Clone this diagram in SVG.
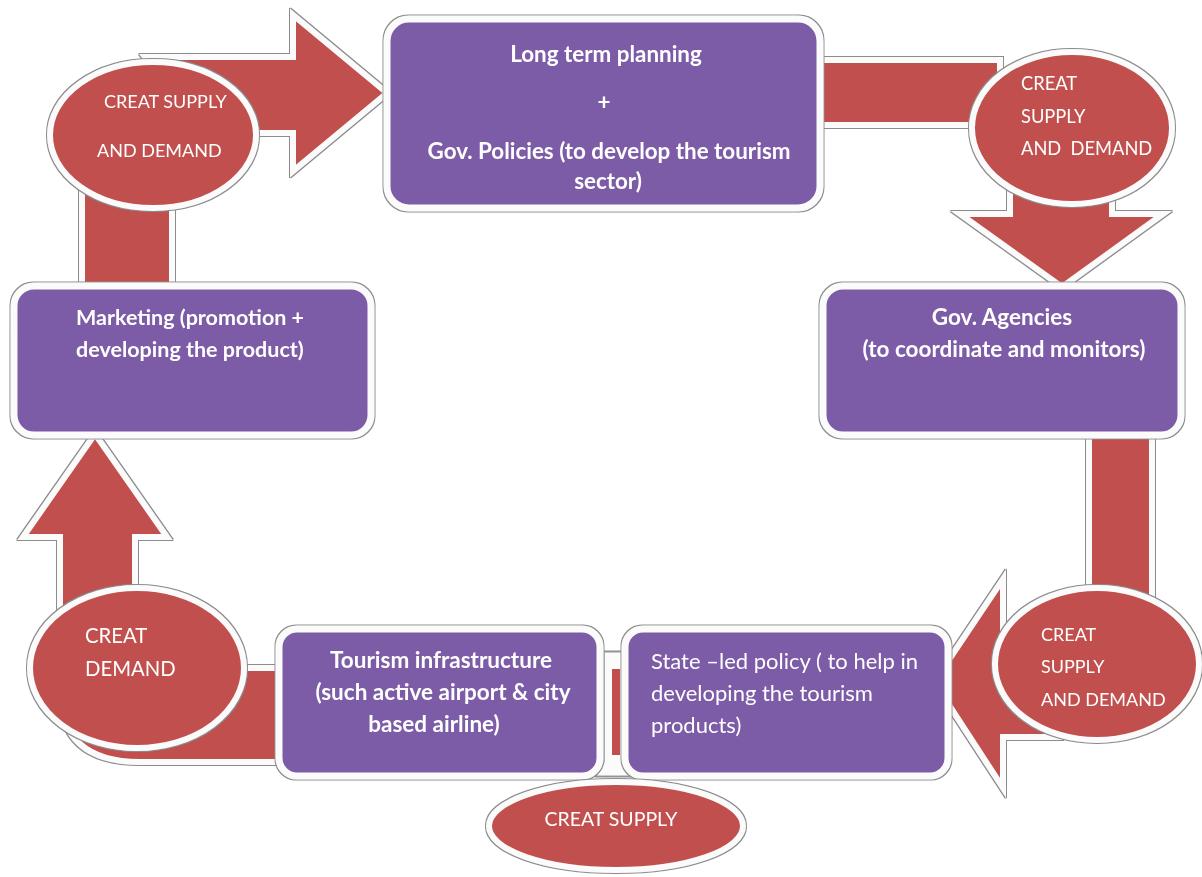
<svg xmlns="http://www.w3.org/2000/svg" width="1202" height="877" viewBox="0 0 1202 877">
<defs>
<filter id="ol" x="-5%" y="-5%" width="110%" height="110%">
<feMorphology in="SourceAlpha" operator="dilate" radius="1.3" result="d"/>
<feFlood flood-color="#8c8c8c"/>
<feComposite in2="d" operator="in" result="g"/>
<feMerge><feMergeNode in="g"/><feMergeNode in="SourceGraphic"/></feMerge>
</filter>
</defs>
<style>
.box{fill:#7d5ca7;stroke:#fbfbfb;stroke-width:7}
.ell{fill:#c0504d;stroke:#fbfbfb;stroke-width:6}
.arr{fill:#c0504d;stroke:#fbfbfb;stroke-width:6;stroke-linejoin:miter}
.tb{font-family:Lato,"Liberation Sans",sans-serif;font-weight:bold;fill:#ffffff}
.tr{font-family:Lato,"Liberation Sans",sans-serif;fill:#ffffff}
</style>
<rect width="1202" height="877" fill="#ffffff"/>

<g id="connectors" filter="url(#ol)">
<path class="arr" d="M145,57 H293 V15 L387,93 L293,171 V133 H200 Z"/>
<rect class="arr" x="82" y="170" width="90" height="122"/>
<rect class="arr" x="815" y="60" width="185" height="65"/>
<path class="arr" d="M1010,180 H1112 V214 H1163 L1062,287 L960,214 H1010 Z"/>
<rect class="arr" x="1089" y="428" width="63" height="190"/>
<path class="arr" d="M1060,628 H1003 V579 L934,682 L1003,788 V737 H1060 Z"/>
<path class="arr" d="M95,434 L167,537 H135 V668 H292 V762 H140 Q60,762 60,690 V537 H23 Z"/>
<path d="M604,652 H623 V762 L631,776 H596 L604,762 Z" fill="#fbfbfb" stroke="#9a9a9a" stroke-width="1"/>
<rect x="611" y="668" width="10" height="88" fill="#c0504d" stroke="#fbfbfb" stroke-width="2"/>
</g>

<g id="node-planning" filter="url(#ol)">
<rect class="box" x="387" y="19" width="433" height="189" rx="22"/>
<text class="tb" x="606" y="62" font-size="22.4" text-anchor="middle">Long term planning</text>
<text class="tb" x="604" y="110" font-size="22.4" text-anchor="middle">+</text>
<text class="tb" x="609" y="159" font-size="22.4" text-anchor="middle">Gov. Policies (to develop the tourism</text>
<text class="tb" x="608" y="189" font-size="22.4" text-anchor="middle">sector)</text>
</g>

<g id="node-agencies" filter="url(#ol)">
<rect class="box" x="823" y="286" width="358" height="149" rx="20"/>
<text class="tb" x="1002" y="325" font-size="22.5" text-anchor="middle">Gov. Agencies</text>
<text class="tb" x="1004" y="357" font-size="22.5" text-anchor="middle">(to coordinate and monitors)</text>
</g>

<g id="node-marketing" filter="url(#ol)">
<rect class="box" x="14" y="286" width="357" height="149" rx="20"/>
<text class="tb" x="76" y="325" font-size="21.5">Marketing (promotion +</text>
<text class="tb" x="76" y="357" font-size="21.5">developing the product)</text>
</g>

<g id="node-infrastructure" filter="url(#ol)">
<rect class="box" x="279" y="629" width="321" height="147" rx="18"/>
<text class="tb" x="441" y="668" font-size="22.5" text-anchor="middle">Tourism infrastructure</text>
<text class="tb" x="443" y="700" font-size="22.5" text-anchor="middle">(such active airport &amp; city</text>
<text class="tb" x="434" y="732" font-size="22.5" text-anchor="middle">based airline)</text>
</g>

<g id="node-stateled" filter="url(#ol)">
<rect class="box" x="625" y="629" width="323" height="147" rx="18"/>
<text class="tr" x="651" y="669" font-size="22">State –led policy ( to help in</text>
<text class="tr" x="651" y="701" font-size="22">developing the tourism</text>
<text class="tr" x="651" y="733" font-size="22">products)</text>
</g>

<g id="node-supply-demand-1" filter="url(#ol)">
<ellipse class="ell" cx="153" cy="135" rx="103" ry="73"/>
<text class="tr" x="104" y="108" font-size="18">CREAT SUPPLY</text>
<text class="tr" x="97" y="157" font-size="18">AND DEMAND</text>
</g>

<g id="node-supply-demand-2" filter="url(#ol)">
<ellipse class="ell" cx="1072" cy="128" rx="100" ry="76"/>
<text class="tr" x="1021" y="90" font-size="18.3">CREAT</text>
<text class="tr" x="1021" y="123" font-size="18.3">SUPPLY</text>
<text class="tr" x="1021" y="155" font-size="18.3" xml:space="preserve">AND  DEMAND</text>
</g>

<g id="node-supply-demand-3" filter="url(#ol)">
<ellipse class="ell" cx="1097" cy="664" rx="102" ry="76"/>
<text class="tr" x="1041" y="641" font-size="18">CREAT</text>
<text class="tr" x="1041" y="673" font-size="18">SUPPLY</text>
<text class="tr" x="1041" y="706" font-size="18">AND DEMAND</text>
</g>

<g id="node-demand" filter="url(#ol)">
<ellipse class="ell" cx="137" cy="668" rx="107" ry="80"/>
<text class="tr" x="85" y="643" font-size="20.3">CREAT</text>
<text class="tr" x="85" y="676" font-size="20.3">DEMAND</text>
</g>

<g id="node-supply" filter="url(#ol)">
<ellipse class="ell" cx="616" cy="826" rx="127" ry="44"/>
<text class="tr" x="611" y="826" font-size="19.5" text-anchor="middle">CREAT SUPPLY</text>
</g>
</svg>
